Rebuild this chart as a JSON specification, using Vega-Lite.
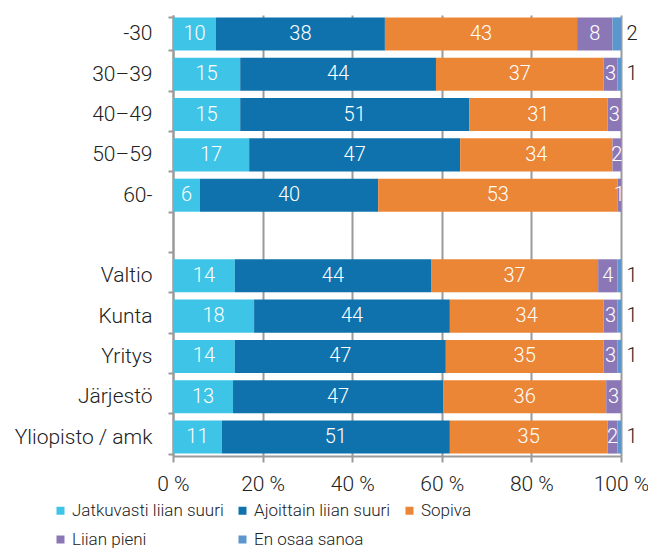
{
  "$schema": "https://vega.github.io/schema/vega-lite/v6.json",
  "width": 448,
  "height": 441,
  "autosize": {"type": "none"},
  "padding": {"left": 173, "top": 15, "right": 27, "bottom": 94},
  "config": {
    "view": {"stroke": null},
    "font": "Roboto",
    "axis": {"labelFontWeight": 300},
    "legend": {"labelFontWeight": 300},
    "text": {"fontWeight": 300}
  },
  "data": {
    "values": [
      {"group": "-30", "cat": "Jatkuvasti liian suuri", "k": 1, "value": 9.6},
      {"group": "-30", "cat": "Ajoittain liian suuri", "k": 2, "value": 37.7},
      {"group": "-30", "cat": "Sopiva", "k": 3, "value": 42.9},
      {"group": "-30", "cat": "Liian pieni", "k": 4, "value": 7.9},
      {"group": "-30", "cat": "En osaa sanoa", "k": 5, "value": 1.9},
      {"group": "30–39", "cat": "Jatkuvasti liian suuri", "k": 1, "value": 15.0},
      {"group": "30–39", "cat": "Ajoittain liian suuri", "k": 2, "value": 43.7},
      {"group": "30–39", "cat": "Sopiva", "k": 3, "value": 37.4},
      {"group": "30–39", "cat": "Liian pieni", "k": 4, "value": 3.1},
      {"group": "30–39", "cat": "En osaa sanoa", "k": 5, "value": 0.8},
      {"group": "40–49", "cat": "Jatkuvasti liian suuri", "k": 1, "value": 15.0},
      {"group": "40–49", "cat": "Ajoittain liian suuri", "k": 2, "value": 51.1},
      {"group": "40–49", "cat": "Sopiva", "k": 3, "value": 30.9},
      {"group": "40–49", "cat": "Liian pieni", "k": 4, "value": 3.0},
      {"group": "50–59", "cat": "Jatkuvasti liian suuri", "k": 1, "value": 17.0},
      {"group": "50–59", "cat": "Ajoittain liian suuri", "k": 2, "value": 47.1},
      {"group": "50–59", "cat": "Sopiva", "k": 3, "value": 34.0},
      {"group": "50–59", "cat": "Liian pieni", "k": 4, "value": 1.9},
      {"group": "60-", "cat": "Jatkuvasti liian suuri", "k": 1, "value": 6.0},
      {"group": "60-", "cat": "Ajoittain liian suuri", "k": 2, "value": 39.8},
      {"group": "60-", "cat": "Sopiva", "k": 3, "value": 53.4},
      {"group": "60-", "cat": "Liian pieni", "k": 4, "value": 0.8},
      {"group": "Valtio", "cat": "Jatkuvasti liian suuri", "k": 1, "value": 13.8},
      {"group": "Valtio", "cat": "Ajoittain liian suuri", "k": 2, "value": 43.8},
      {"group": "Valtio", "cat": "Sopiva", "k": 3, "value": 37.3},
      {"group": "Valtio", "cat": "Liian pieni", "k": 4, "value": 4.3},
      {"group": "Valtio", "cat": "En osaa sanoa", "k": 5, "value": 0.8},
      {"group": "Kunta", "cat": "Jatkuvasti liian suuri", "k": 1, "value": 18.1},
      {"group": "Kunta", "cat": "Ajoittain liian suuri", "k": 2, "value": 43.7},
      {"group": "Kunta", "cat": "Sopiva", "k": 3, "value": 34.3},
      {"group": "Kunta", "cat": "Liian pieni", "k": 4, "value": 3.1},
      {"group": "Kunta", "cat": "En osaa sanoa", "k": 5, "value": 0.8},
      {"group": "Yritys", "cat": "Jatkuvasti liian suuri", "k": 1, "value": 13.8},
      {"group": "Yritys", "cat": "Ajoittain liian suuri", "k": 2, "value": 47.1},
      {"group": "Yritys", "cat": "Sopiva", "k": 3, "value": 35.2},
      {"group": "Yritys", "cat": "Liian pieni", "k": 4, "value": 3.1},
      {"group": "Yritys", "cat": "En osaa sanoa", "k": 5, "value": 0.8},
      {"group": "Järjestö", "cat": "Jatkuvasti liian suuri", "k": 1, "value": 13.4},
      {"group": "Järjestö", "cat": "Ajoittain liian suuri", "k": 2, "value": 46.9},
      {"group": "Järjestö", "cat": "Sopiva", "k": 3, "value": 36.4},
      {"group": "Järjestö", "cat": "Liian pieni", "k": 4, "value": 3.3},
      {"group": "Yliopisto / amk", "cat": "Jatkuvasti liian suuri", "k": 1, "value": 10.9},
      {"group": "Yliopisto / amk", "cat": "Ajoittain liian suuri", "k": 2, "value": 50.9},
      {"group": "Yliopisto / amk", "cat": "Sopiva", "k": 3, "value": 35.2},
      {"group": "Yliopisto / amk", "cat": "Liian pieni", "k": 4, "value": 2.2},
      {"group": "Yliopisto / amk", "cat": "En osaa sanoa", "k": 5, "value": 0.8}
    ]
  },
  "transform": [
    {"stack": "value", "groupby": ["group"], "sort": [{"field": "k"}], "as": ["v0", "v1"]}
  ],
  "encoding": {
    "y": {
      "field": "group",
      "type": "nominal",
      "scale": {
        "domain": ["-30", "30–39", "40–49", "50–59", "60-", " ", "Valtio", "Kunta", "Yritys", "Järjestö", "Yliopisto / amk"],
        "paddingInner": 0.18,
        "paddingOuter": 0.06
      },
      "axis": {
        "title": null,
        "domainColor": "#9a9a9a",
        "domainWidth": 2,
        "tickColor": "#9a9a9a",
        "tickWidth": 2,
        "tickSize": 5,
        "tickBand": "extent",
        "labelFontSize": 21,
        "labelColor": "#222222",
        "labelPadding": 16,
        "grid": false
      }
    }
  },
  "layer": [
    {
      "mark": {"type": "bar"},
      "encoding": {
        "x": {
          "field": "v0",
          "type": "quantitative",
          "scale": {"domain": [0, 100]},
          "axis": {
            "title": null,
            "values": [0, 20, 40, 60, 80, 100],
            "grid": true,
            "gridColor": "#9a9a9a",
            "gridWidth": 2,
            "domainColor": "#9a9a9a",
            "domainWidth": 2,
            "tickColor": "#9a9a9a",
            "tickWidth": 2,
            "tickSize": 6,
            "labelFlush": false,
            "labelExpr": "datum.value + ' %'",
            "labelFontSize": 21,
            "labelColor": "#222222",
            "labelPadding": 11
          }
        },
        "x2": {"field": "v1"},
        "color": {
          "field": "cat",
          "type": "nominal",
          "scale": {
            "domain": ["Jatkuvasti liian suuri", "Ajoittain liian suuri", "Sopiva", "Liian pieni", "En osaa sanoa"],
            "range": ["#3ec4e6", "#0f72ad", "#eb8637", "#8b77b5", "#5b97cd"]
          },
          "legend": {
            "title": null,
            "orient": "none",
            "legendX": -121,
            "legendY": 487,
            "padding": 0,
            "direction": "horizontal",
            "columns": 3,
            "gridAlign": "each",
            "columnPadding": 10,
            "rowPadding": 11,
            "symbolType": "square",
            "symbolSize": 64,
            "symbolStrokeWidth": 0,
            "symbolOffset": 0,
            "labelOffset": 3,
            "labelFontSize": 17,
            "labelColor": "#222222",
            "labelLimit": 220
          }
        }
      }
    },
    {
      "transform": [
        {"filter": "datum.k < 5 && datum.value >= 0.5"},
        {"fold": ["v0", "v1"], "as": ["side", "pos"]},
        {"aggregate": [{"op": "mean", "field": "pos", "as": "mid"}, {"op": "max", "field": "value", "as": "val"}], "groupby": ["group", "k"]}
      ],
      "mark": {"type": "text", "color": "white", "fontSize": 20, "baseline": "middle", "align": "center"},
      "encoding": {
        "x": {"field": "mid", "type": "quantitative"},
        "text": {"field": "val", "type": "quantitative", "format": ".0f"}
      }
    },
    {
      "transform": [{"filter": "datum.k == 5 && datum.value >= 0.5"}],
      "mark": {"type": "text", "color": "#222222", "fontSize": 20, "baseline": "middle", "align": "center", "dx": 11},
      "encoding": {
        "x": {"datum": 100},
        "text": {"field": "value", "type": "quantitative", "format": ".0f"}
      }
    }
  ]
}
